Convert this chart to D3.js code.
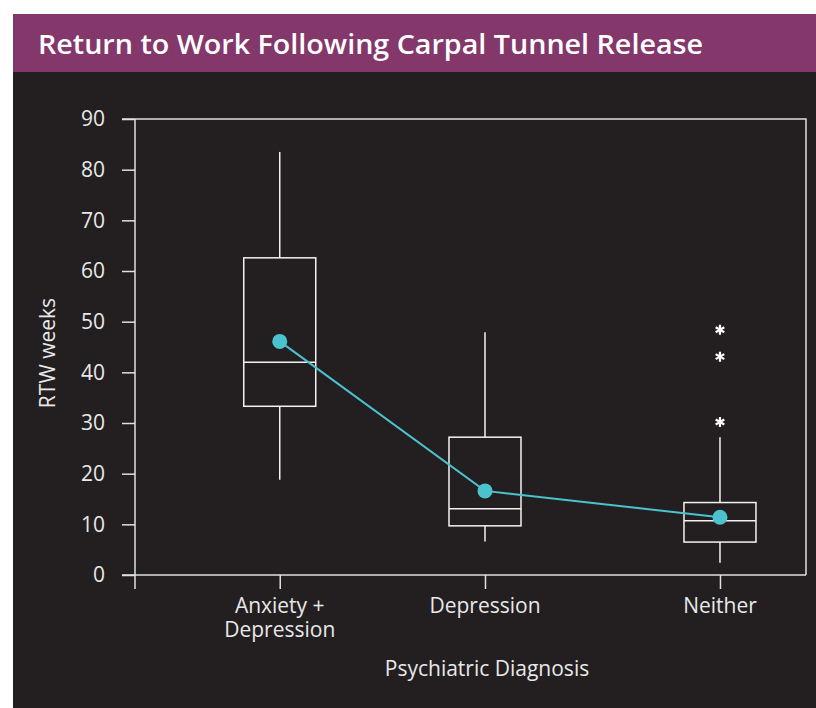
<!DOCTYPE html>
<html><head><meta charset="utf-8">
<script src="https://cdn.jsdelivr.net/npm/d3@7"></script>
<style>
html,body{margin:0;padding:0;background:#fff;}
svg{display:block;}
</style></head>
<body>
<script>
// ---- data ----
const title = "Return to Work Following Carpal Tunnel Release";
const categories = ["Anxiety + Depression", "Depression", "Neither"];
const categoryLines = [["Anxiety +", "Depression"], ["Depression"], ["Neither"]];
const whiskerLow = [18.8, 6.6, 2.4];
const q1 = [33.3, 9.7, 6.5];
const median = [42.0, 13.1, 10.7];
const q3 = [62.6, 27.2, 14.3];
const whiskerHigh = [83.5, 47.9, 27.2];
const means = [46.1, 16.6, 11.4];
const outlierCat = ["Neither", "Neither", "Neither"];
const outlierVal = [48.4, 43.1, 30.2];
const yTicks = [0, 10, 20, 30, 40, 50, 60, 70, 80, 90];
const yLabel = "RTW weeks";
const xLabel = "Psychiatric Diagnosis";

// ---- layout ----
const W = 816, H = 708;
const svg = d3.select("body").append("svg").attr("width", W).attr("height", H);
const font = "'Open Sans', sans-serif";
const bg = "#231f20", purple = "#84376b", teal = "#4bc3cf", fg = "#e8e8e8";
const fs = 21;

svg.append("rect").attr("x", 13).attr("y", 14).attr("width", W - 13).attr("height", H - 14).attr("fill", bg);
svg.append("rect").attr("x", 13).attr("y", 14).attr("width", W - 13).attr("height", 58).attr("fill", purple);
svg.append("text").attr("x", 38).attr("y", 54).attr("fill", "#fff")
  .attr("font-family", font).attr("font-weight", 600).attr("font-size", 27)
  .attr("textLength", 665).attr("lengthAdjust", "spacingAndGlyphs")
  .text(title);

const L = 135, R = 806, T = 119, B = 575;
const y = d3.scaleLinear().domain([0, 90]).range([B, T]);
const fr = [0.2157, 0.5216, 0.8718];
const x = d3.scaleOrdinal().domain(categories).range(fr.map(f => L + f * (R - L)));

const line = "#e0e0e0";
// frame top & right
svg.append("path").attr("d", `M${L - 13},${T}H${R}V${B}`).attr("fill", "none").attr("stroke", line).attr("stroke-width", 1.5);

// y axis
const ya = svg.append("g").attr("transform", `translate(${L},0)`)
  .call(d3.axisLeft(y).tickValues(yTicks).tickSize(13).tickPadding(17).tickSizeOuter(0));
ya.select(".domain").attr("d", `M0,${T}V${B + 14}`);
// x axis
const xa = svg.append("g").attr("transform", `translate(0,${B})`)
  .call(d3.axisBottom(x).tickSize(14).tickSizeOuter(0).tickFormat(""));
xa.select(".domain").attr("d", `M${L - 13},0H${R}`);
svg.selectAll(".domain, .tick line").attr("stroke", line).attr("stroke-width", 1.5);
ya.selectAll("text").attr("fill", fg).attr("font-family", font).attr("font-size", fs);

// x labels
categories.forEach((c, i) => {
  const t = svg.append("text").attr("x", x(c)).attr("y", 613).attr("text-anchor", "middle")
    .attr("fill", fg).attr("font-family", font).attr("font-size", fs);
  categoryLines[i].forEach((s, j) => t.append("tspan").attr("x", x(c)).attr("dy", j ? 24 : 0).text(s));
});
svg.append("text").attr("x", 487).attr("y", 676).attr("text-anchor", "middle")
  .attr("fill", fg).attr("font-family", font).attr("font-size", fs).text(xLabel);
svg.append("text").attr("transform", "translate(55,353) rotate(-90)").attr("text-anchor", "middle")
  .attr("fill", fg).attr("font-family", font).attr("font-size", fs).text(yLabel);

// boxes
const bw = 72;
const boxes = svg.append("g").attr("stroke", "#f2f2f2").attr("stroke-width", 1.5).attr("fill", "none");
categories.forEach((c, i) => {
  const cx = x(c);
  boxes.append("line").attr("x1", cx).attr("x2", cx).attr("y1", y(whiskerHigh[i])).attr("y2", y(q3[i]));
  boxes.append("line").attr("x1", cx).attr("x2", cx).attr("y1", y(q1[i])).attr("y2", y(whiskerLow[i]));
  boxes.append("rect").attr("x", cx - bw / 2).attr("width", bw).attr("y", y(q3[i])).attr("height", y(q1[i]) - y(q3[i]));
  boxes.append("line").attr("x1", cx - bw / 2).attr("x2", cx + bw / 2).attr("y1", y(median[i])).attr("y2", y(median[i]));
});

// outliers (asterisks)
const star = d3.symbol().type(d3.symbolAsterisk).size(70);
svg.append("g").selectAll("path").data(outlierVal).join("path")
  .attr("d", star).attr("transform", (d, i) => `translate(${x(outlierCat[i])},${y(d)})`)
  .attr("fill", "none").attr("stroke", "#fff").attr("stroke-width", 2.2);

// mean line
svg.append("path").datum(means)
  .attr("d", d3.line().x((d, i) => x(categories[i])).y(d => y(d)))
  .attr("fill", "none").attr("stroke", teal).attr("stroke-width", 2);
svg.append("g").selectAll("circle").data(means).join("circle")
  .attr("cx", (d, i) => x(categories[i])).attr("cy", d => y(d)).attr("r", 7.5).attr("fill", teal);
</script>
</body></html>
